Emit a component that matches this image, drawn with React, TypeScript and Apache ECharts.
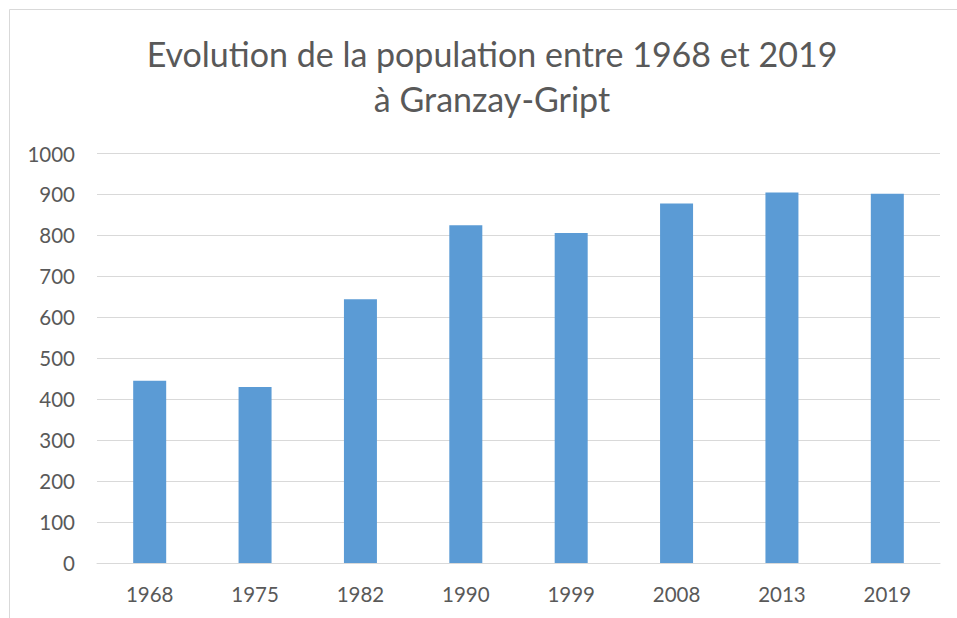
import React, { useEffect, useRef } from "react";
import * as echarts from "echarts";

const years = ["1968", "1975", "1982", "1990", "1999", "2008", "2013", "2019"];
const population = [445, 430, 644, 825, 806, 878, 905, 902];
const titleLines = ["Evolution de la population entre 1968 et 2019", "à Granzay-Gript"];

export default function App() {
  const ref = useRef<HTMLDivElement>(null);
  useEffect(() => {
    if (!ref.current) return;
    const chart = echarts.init(ref.current, null, { renderer: "svg" });
    chart.setOption({
      animation: false,
      backgroundColor: "#ffffff",
      title: {
        text: titleLines.join("\n"),
        left: 487,
        textAlign: "center",
        top: 26,
        textStyle: {
          fontFamily: "Lato",
          fontSize: 34,
          fontWeight: "normal",
          color: "#595959",
          lineHeight: 45,
        },
      },
      graphic: [
        {
          type: "rect",
          shape: { x: 9.5, y: 9.5, width: 960, height: 620 },
          style: { fill: "none", stroke: "#d9d9d9", lineWidth: 1 },
          silent: true,
        },
      ],
      grid: { left: 97, right: 17, top: 153.5, bottom: 55, containLabel: false },
      xAxis: {
        type: "category",
        data: years,
        axisLine: { lineStyle: { color: "#d9d9d9", width: 1 } },
        axisTick: { show: false },
        axisLabel: {
          color: "#595959",
          fontFamily: "Lato",
          fontSize: 20.5,
          margin: 20,
        },
      },
      yAxis: {
        type: "value",
        min: 0,
        max: 1000,
        interval: 100,
        axisLine: { show: false },
        axisTick: { show: false },
        splitLine: { lineStyle: { color: "#d9d9d9", width: 1 } },
        axisLabel: {
          color: "#595959",
          fontFamily: "Lato",
          fontSize: 20.5,
          margin: 22,
          formatter: (v: number) => String(v),
        },
      },
      series: [
        {
          type: "bar",
          data: population,
          barWidth: 33,
          itemStyle: { color: "#5b9bd5" },
        },
      ],
    });
    return () => chart.dispose();
  }, []);
  return (
    <div
      ref={ref}
      style={{ position: "fixed", left: 0, top: 0, width: 957, height: 618 }}
    />
  );
}
